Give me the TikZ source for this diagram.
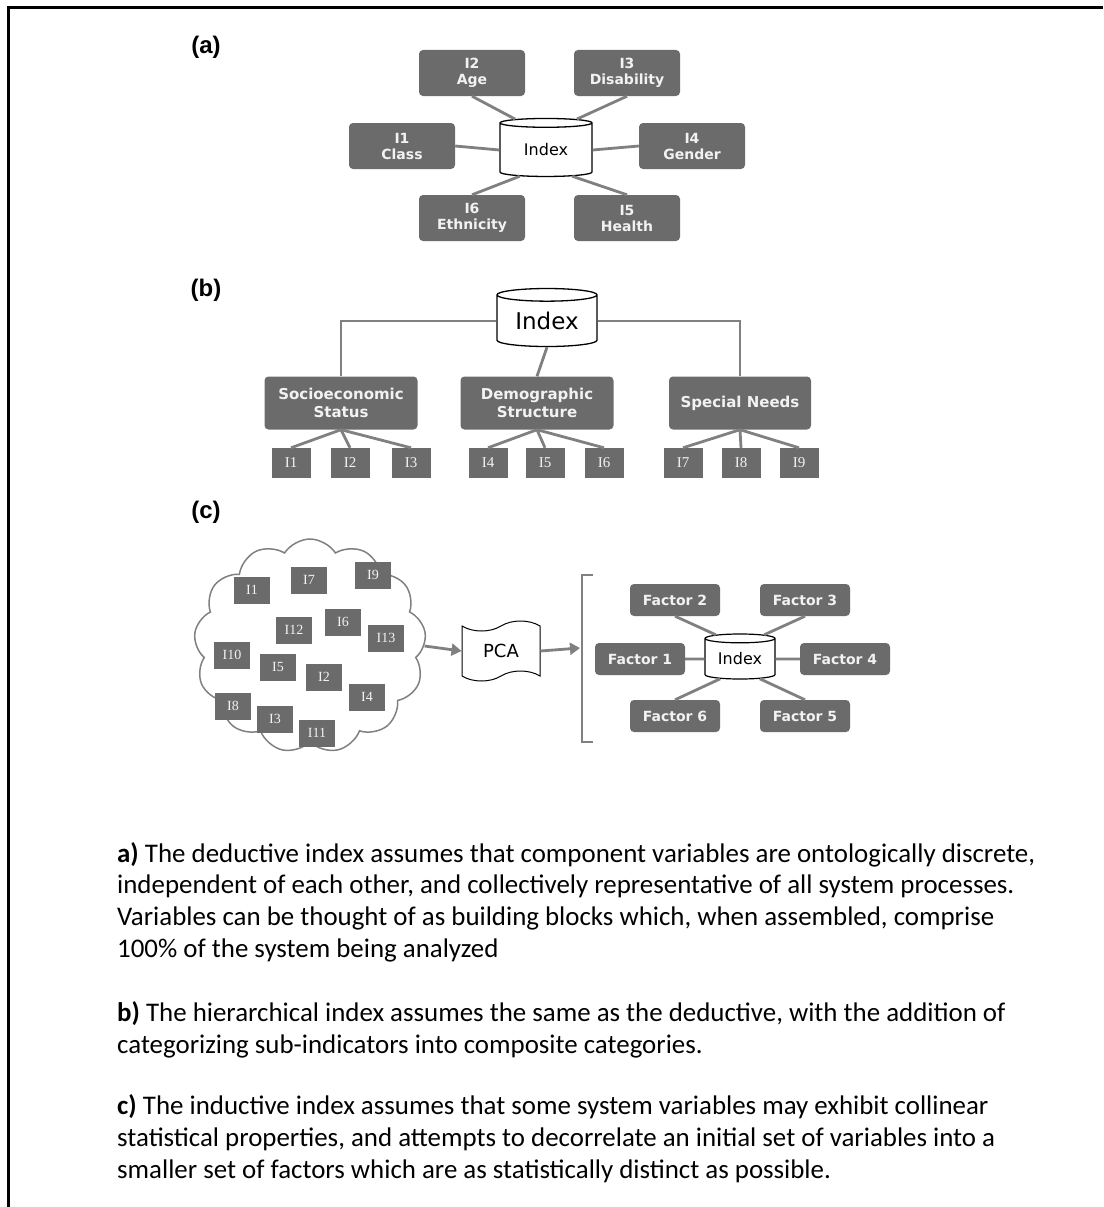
\documentclass[tikz,border=0pt]{standalone}
\usepackage{fontspec}
\setmainfont{Carlito}
\newfontfamily\boxfont{DejaVu Sans}
\newfontfamily\labfont{Liberation Sans}
\newfontfamily\serfont{Liberation Serif}
\usepackage{xcolor}
\usetikzlibrary{shapes.geometric, shapes.symbols, arrows.meta, positioning, calc}

\definecolor{boxgray}{HTML}{6B6B6B}
\definecolor{boxtext}{HTML}{F2F2F2}
\definecolor{linkgray}{HTML}{808080}

\begin{document}
\begin{tikzpicture}[
  x=1pt, y=-1pt,
  ind/.style={
    rectangle, rounded corners=4pt, fill=boxgray, text=boxtext,
    minimum width=106pt, minimum height=46pt, inner sep=0pt,
    align=center, font=\boxfont\bfseries\fontsize{14}{16}\selectfont
  },
  cat/.style={ind, minimum width=153pt, minimum height=53pt,
    font=\boxfont\bfseries\fontsize{15}{18}\selectfont},
  fac/.style={ind, minimum width=90pt, minimum height=32pt,
    font=\boxfont\bfseries\fontsize{14}{16}\selectfont},
  sub/.style={
    rectangle, fill=boxgray, text=boxtext, inner sep=0pt,
    minimum width=39pt, minimum height=30pt,
    font=\serfont\fontsize{15}{15}\selectfont
  },
  subc/.style={sub, minimum width=36pt, minimum height=27pt,
    font=\serfont\fontsize{14}{14}\selectfont},
  idx/.style={
    cylinder, shape border rotate=90, aspect=0.2, draw=black,
    fill=white, line width=1.3pt, inner sep=0pt,
    minimum width=92pt, minimum height=58pt,
    font=\boxfont\fontsize{16}{16}\selectfont
  },
  link/.style={draw=linkgray, line width=2.8pt},
  flow/.style={draw=linkgray, line width=2.8pt,
    -{Triangle[length=10pt,width=12pt]}},
  panel/.style={font=\labfont\bfseries\fontsize{24}{24}\selectfont},
  para/.style={anchor=base west, align=left, inner sep=0pt,
    font=\fontsize{26.9}{31.6}\selectfont}
]
\useasboundingbox (0,0) rectangle (1103,1207);

% -- frame --
\draw[line width=3pt] (8,1207) -- (8,8) -- (1103,8);

% -- (a) deductive --
\node[panel] (la) at (206,47) {(a)};
\node[idx] (ia) at (546,150) {Index};
\node[ind] (a2) at (472,73)  {I2\\Age};
\node[ind] (a3) at (627,73)  {I3\\Disability};
\node[ind] (a1) at (402,146) {I1\\Class};
\node[ind] (a4) at (692,146) {I4\\Gender};
\node[ind] (a6) at (472,218) {I6\\Ethnicity};
\node[ind] (a5) at (627,218) {I5\\Health};

\draw[link] (a2.south) -- (ia.north west);
\draw[link] (a3.south) -- (ia.north east);
\draw[link] (a1.east) -- (ia.west);
\draw[link] (a4.west) -- (ia.east);
\draw[link] (a6.north) -- (ia.south west);
\draw[link] (a5.north) -- (ia.south east);

% -- (b) hierarchical --
\node[panel] (lb) at (206,290) {(b)};
\node[idx, minimum width=100pt, font=\boxfont\fontsize{23}{23}\selectfont] (ib) at (547,321) {Index};
\node[cat] (soc)  at (341,403) {Socioeconomic\\Status};
\node[cat] (dem)  at (537,403) {Demographic\\Structure};
\node[cat, minimum width=142pt] (spn) at (740,403) {Special Needs};

\foreach \n/\x in {1/291, 2/350, 3/411, 4/488, 5/545, 6/604, 7/683, 8/741, 9/799}
  \node[sub] (b\n) at (\x,463) {I\n};

\draw[link] (ib.west) -| (soc.north);
\draw[link] (ib.east) -| (spn.north);
\draw[link] (ib.south) -- (dem.north);
\foreach \c/\i in {soc/1, soc/2, soc/3, dem/4, dem/5, dem/6, spn/7, spn/8, spn/9}
  \draw[link] (\c.south) -- (b\i.north);

% -- (c) inductive --
\node[panel] (lc) at (206,512) {(c)};
\node[cloud, cloud puffs=13, cloud puff arc=115, aspect=1.1, draw=linkgray,
  line width=1.5pt, minimum width=232pt, minimum height=214pt] (cl) at (310,646) {};
\foreach \n/\x/\y in {1/252/590, 7/309/580, 9/373/575, 12/294/630, 6/343/622,
    13/386/638, 10/232/655, 5/278/667, 2/324/677, 8/233/706, 4/367/697,
    3/275/719, 11/317/733}
  \node[subc] (c\n) at (\x,\y) {I\n};

\node[tape, draw=black, fill=white, line width=1pt, tape bend height=10pt,
  minimum width=78pt, minimum height=60pt,
  font=\boxfont\fontsize{18}{18}\selectfont] (pca) at (501,651) {PCA};
\coordinate (brk) at (580,648);
\draw[draw=linkgray, line width=1.5pt] (593,575) -- (582,575) -- (582,742) -- (593,742);

\draw[flow] (cl.east) -- (pca.west);
\draw[flow] (pca.east) -- (brk);

\node[idx, minimum width=70pt, minimum height=45pt, line width=1.2pt,
  font=\boxfont\fontsize{16}{16}\selectfont] (ic) at (740,659) {Index};
\node[fac] (f2) at (675,600) {Factor 2};
\node[fac] (f3) at (805,600) {Factor 3};
\node[fac] (f1) at (640,659) {Factor 1};
\node[fac] (f4) at (845,659) {Factor 4};
\node[fac] (f6) at (675,716) {Factor 6};
\node[fac] (f5) at (805,716) {Factor 5};

\draw[link] (f2.south) -- (ic.north west);
\draw[link] (f3.south) -- (ic.north east);
\draw[link] (f1.east) -- (ic.west);
\draw[link] (f4.west) -- (ic.east);
\draw[link] (f6.north) -- (ic.south west);
\draw[link] (f5.north) -- (ic.south east);

% -- text --
\node[para] (ta) at (117,957) {\textbf{a)} The deductive index assumes that component variables are ontologically discrete,\\
independent of each other, and collectively representative of all system processes.\\
Variables can be thought of as building blocks which, when assembled, comprise\\
100\% of the system being analyzed};
\node[para] (tb) at (117,1053) {\textbf{b)} The hierarchical index assumes the same as the deductive, with the addition of\\
categorizing sub-indicators into composite categories.};
\node[para] (tc) at (117,1178) {\textbf{c)} The inductive index assumes that some system variables may exhibit collinear\\
statistical properties, and attempts to decorrelate an initial set of variables into a\\
smaller set of factors which are as statistically distinct as possible.};
\end{tikzpicture}
\end{document}
